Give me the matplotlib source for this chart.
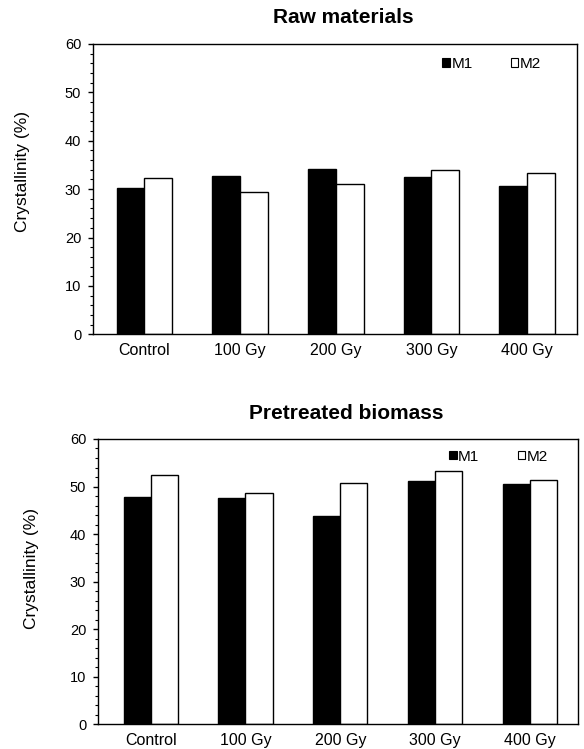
import matplotlib
matplotlib.use("Agg")
import matplotlib.pyplot as plt
from matplotlib.patches import Patch
from matplotlib.ticker import MultipleLocator
import numpy as np

plt.rcParams['font.family'] = ['Liberation Sans', 'DejaVu Sans']

categories = ["Control", "100 Gy", "200 Gy", "300 Gy", "400 Gy"]
raw_m1 = [30.2, 32.8, 34.2, 32.5, 30.6]
raw_m2 = [32.4, 29.4, 31.0, 33.9, 33.3]
pre_m1 = [47.8, 47.5, 43.7, 51.2, 50.6]
pre_m2 = [52.5, 48.6, 50.7, 53.3, 51.4]
series_names = ["M1", "M2"]
titles = ["Raw materials", "Pretreated biomass"]
ylabel = "Crystallinity (%)"

fig = plt.figure(figsize=(5.84, 7.49), dpi=100)
ax1 = fig.add_axes([0.1592, 0.5537, 0.8288, 0.3876])
ax2 = fig.add_axes([0.1678, 0.0330, 0.8219, 0.3809])

panels = [
    (ax1, raw_m1, raw_m2, titles[0], (-0.536, 4.52), 0.29, (0.926, 0.955), (-0.13, 0.56), 15.0),
    (ax2, pre_m1, pre_m2, titles[1], (-0.555, 4.506), 0.285, (0.9375, 0.963), (-0.122, 0.546), 14.2),
]
for ax, m1, m2, title, xl, w, leg_anchor, lab_xy, tpad in panels:
    x = np.arange(len(categories))
    ax.bar(x - w / 2, m1, w, color='black', edgecolor='black', linewidth=1)
    ax.bar(x + w / 2, m2, w, color='white', edgecolor='black', linewidth=1)
    ax.set_xlim(*xl)
    ax.set_ylim(0, 60)
    ax.yaxis.set_major_locator(MultipleLocator(10))
    ax.yaxis.set_minor_locator(MultipleLocator(2))
    ax.set_xticks(x)
    ax.set_xticklabels(categories, fontsize=11.5)
    ax.tick_params(axis='x', length=0, pad=6)
    ax.tick_params(axis='y', which='major', length=3.5, width=1, labelsize=10.5, pad=5)
    ax.tick_params(axis='y', which='minor', length=2, width=0.8)
    for s in ax.spines.values():
        s.set_linewidth(1)
    ax.set_ylabel(ylabel, fontsize=12.5)
    ax.yaxis.set_label_coords(*lab_xy)
    ax.set_title(title, fontsize=15, fontweight='bold', pad=tpad, x=0.518)
    handles = [Patch(facecolor='black', edgecolor='black', linewidth=0.8),
               Patch(facecolor='white', edgecolor='black', linewidth=0.8)]
    ax.legend(handles, series_names, loc='upper right', bbox_to_anchor=leg_anchor,
              ncol=2, frameon=False, handlelength=0.5, handleheight=0.45,
              handletextpad=0.1, columnspacing=2.5, fontsize=11, borderpad=0,
              borderaxespad=0)

fig.savefig("out.png", dpi=100)
